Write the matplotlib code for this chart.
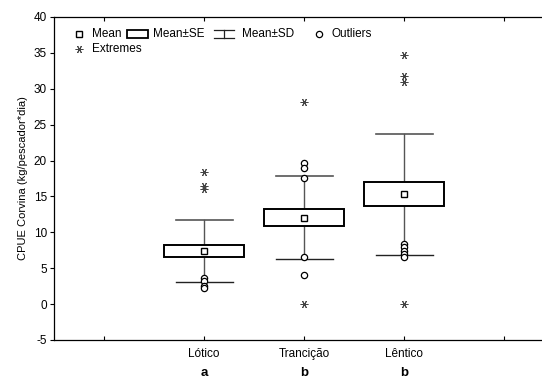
import matplotlib
matplotlib.use('Agg')
import matplotlib.pyplot as plt
from matplotlib.patches import Rectangle
import numpy as np

plt.rcParams['font.family'] = ['Liberation Sans', 'DejaVu Sans']
plt.rcParams['axes.unicode_minus'] = False

groups = ['Lótico', 'Trancição', 'Lêntico']
letters = ['a', 'b', 'b']
positions = [2, 3, 4]
means = [7.4, 12.05, 15.3]
se = [0.9, 1.15, 1.7]
sd = [4.3, 5.75, 8.4]
outliers = [[3.6, 3.2, 2.5, 2.2],
            [19.7, 19.0, 17.5, 6.6, 4.0],
            [8.4, 7.9, 7.4, 7.0, 6.6]]
extremes = [[18.4, 16.5, 16.1],
            [28.2, 0.0],
            [34.7, 31.8, 30.9, 0.0]]

W, H = 542, 378
fig = plt.figure(figsize=(W / 100, H / 100), dpi=100)
ax = fig.add_axes([54 / W, 38 / H, (W - 54) / W, 323 / H])

box_w = 0.8
cap_w = 0.57
wcol = '#555555'
ast = (6, 2, 90)

for x, m, s, d, outl, ext in zip(positions, means, se, sd, outliers, extremes):
    # SD whisker
    ax.plot([x, x], [m - d, m + d], color=wcol, lw=1.0, zorder=1)
    ax.plot([x - cap_w / 2, x + cap_w / 2], [m + d, m + d], color=wcol, lw=1.2, zorder=1)
    ax.plot([x - cap_w / 2, x + cap_w / 2], [m - d, m - d], color='#222222', lw=1.0, zorder=1)
    # SE box
    ax.add_patch(Rectangle((x - box_w / 2, m - s), box_w, 2 * s,
                           facecolor='white', edgecolor='black', lw=1.4, zorder=2))
    ax.plot(x, m, marker='s', ms=4, mfc='white', mec='black', mew=1.0, zorder=3)
    ax.plot([x] * len(outl), outl, ls='none', marker='o', ms=4.5,
            mfc='white', mec='black', mew=0.9, zorder=3)
    ax.plot([x] * len(ext), ext, ls='none', marker=ast, ms=5.5,
            color='#444444', mew=0.7, zorder=3)

ax.set_xlim(0.5, 5.38)
ax.set_ylim(-5, 40)
ax.set_yticks(np.arange(-5, 41, 5))
ax.set_xticks([1, 2, 3, 4, 5])
ax.set_xticklabels(['', *groups, ''])
ax.tick_params(axis='y', direction='out', length=3, width=0.8, labelsize=8.5, pad=2)
ax.tick_params(axis='x', direction='in', length=3, width=0.8, labelsize=8.5, pad=6,
               top=True)
ax.spines['right'].set_visible(False)
for sp in ['left', 'bottom', 'top']:
    ax.spines[sp].set_linewidth(0.9)
ax.set_ylabel('CPUE Corvina (kg/pescador*dia)', fontsize=8, labelpad=4)

# significance letters under the category names
for x, lt in zip(positions, letters):
    ax.text(x, -0.102, lt, transform=ax.get_xaxis_transform(),
            ha='center', va='center', fontsize=9.5, fontweight='bold')

# legend drawn by hand in axes coordinates
t = ax.transAxes
def ax_x(px):
    return (px - 54) / (W - 54)
def ax_y(py):
    return (340 - py) / 323

r1, r2 = ax_y(34), ax_y(49)
ax.plot(ax_x(79), r1, marker='s', ms=4, mfc='white', mec='black', mew=1.0,
        transform=t, clip_on=False)
ax.text(ax_x(92), r1, 'Mean', transform=t, fontsize=8.5, va='center')
ax.add_patch(Rectangle((ax_x(127), ax_y(38)), ax_x(148) - ax_x(127),
                       ax_y(30) - ax_y(38), transform=t, facecolor='white',
                       edgecolor='black', lw=1.3))
ax.text(ax_x(153), r1, 'Mean±SE', transform=t, fontsize=8.5, va='center')
ax.plot([ax_x(214), ax_x(234)], [ax_y(30), ax_y(30)], color='#222222', lw=0.9, transform=t)
ax.plot([ax_x(214), ax_x(234)], [ax_y(38), ax_y(38)], color='#222222', lw=0.9, transform=t)
ax.plot([ax_x(224), ax_x(224)], [ax_y(30), ax_y(38)], color='#222222', lw=0.9, transform=t)
ax.text(ax_x(242), r1, 'Mean±SD', transform=t, fontsize=8.5, va='center')
ax.plot(ax_x(319), r1, marker='o', ms=4.5, mfc='white', mec='black', mew=0.9,
        transform=t)
ax.text(ax_x(331), r1, 'Outliers', transform=t, fontsize=8.5, va='center')
ax.plot(ax_x(79), r2, marker=ast, ms=5.5, color='#444444', mew=0.7, transform=t)
ax.text(ax_x(92), r2, 'Extremes', transform=t, fontsize=8.5, va='center')

fig.savefig('out.png', dpi=100)
